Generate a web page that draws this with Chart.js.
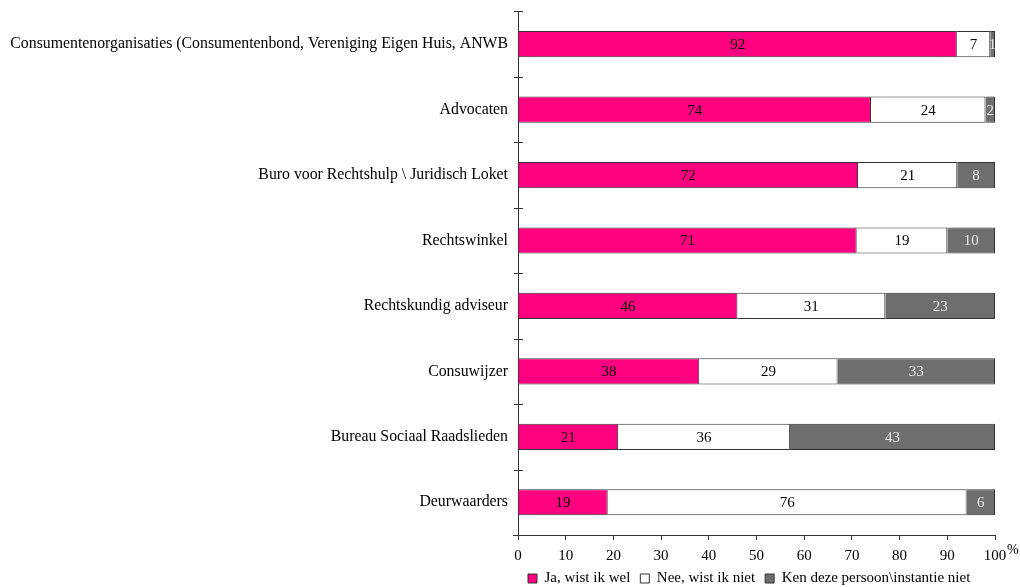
<!DOCTYPE html>
<html>
<head>
<meta charset="utf-8">
<script src="https://cdn.jsdelivr.net/npm/chart.js@4.4.1/dist/chart.umd.min.js"></script>
<style>
    html, body { margin: 0; padding: 0; background: #fff; }
    #wrap { width: 1020px; height: 587px; }
</style>
</head>
<body>
<div id="wrap"><canvas id="chart" width="1020" height="587"></canvas></div>
<script>
// Categories, top to bottom
const categories = [
    'Consumentenorganisaties (Consumentenbond, Vereniging Eigen Huis, ANWB',
    'Advocaten',
    'Buro voor Rechtshulp \\ Juridisch Loket',
    'Rechtswinkel',
    'Rechtskundig adviseur',
    'Consuwijzer',
    'Bureau Sociaal Raadslieden',
    'Deurwaarders'
];

// Percentages as printed on the bars
const jaWistIkWel = [92, 74, 72, 71, 46, 38, 21, 19];
const neeWistIkNiet = [7, 24, 21, 19, 31, 29, 36, 76];
const kenNiet = [1, 2, 8, 10, 23, 33, 43, 6];

const seriesNames = ['Ja, wist ik wel', 'Nee, wist ik niet', 'Ken deze persoon\\instantie niet'];
const xTicks = [0, 10, 20, 30, 40, 50, 60, 70, 80, 90, 100];

const FONT = '"Liberation Serif", "Times New Roman", serif';

// 100% stacked: scale each row so it fills the bar
function share(values) {
    return values.map((v, i) => v / (jaWistIkWel[i] + neeWistIkNiet[i] + kenNiet[i]) * 100);
}

const raw = [jaWistIkWel, neeWistIkNiet, kenNiet];

const valueLabels = {
    id: 'valueLabels',
    afterDatasetsDraw(chart) {
        const ctx = chart.ctx;
        ctx.save();
        ctx.font = '15px ' + FONT;
        ctx.textAlign = 'center';
        ctx.textBaseline = 'middle';
        chart.data.datasets.forEach((ds, d) => {
            const meta = chart.getDatasetMeta(d);
            meta.data.forEach((bar, i) => {
                ctx.fillStyle = d === 2 ? '#e6e6e6' : '#000';
                ctx.fillText(String(raw[d][i]), (bar.x + bar.base) / 2, bar.y + 1);
            });
        });
        ctx.restore();
    }
};

const axisMarks = {
    id: 'axisMarks',
    afterDraw(chart) {
        const ctx = chart.ctx;
        const y = chart.scales.y;
        const x = chart.scales.x;
        const left = chart.chartArea.left;
        const bottom = chart.chartArea.bottom;
        ctx.save();
        ctx.strokeStyle = '#333';
        ctx.lineWidth = 1;
        ctx.beginPath();
        // ticks between categories, crossing the axis
        const step = y.getPixelForValue(1) - y.getPixelForValue(0);
        for (let i = 0; i < categories.length; i++) {
            const py = Math.round(y.getPixelForValue(i) - step / 2) + 0.5;
            ctx.moveTo(left - 4, py);
            ctx.lineTo(left + 5, py);
        }
        // small stub of the x axis left of zero
        ctx.moveTo(left - 5, bottom + 0.5);
        ctx.lineTo(left, bottom + 0.5);
        ctx.stroke();
        // percent sign after the last tick
        ctx.fillStyle = '#000';
        ctx.font = '14px ' + FONT;
        ctx.textAlign = 'left';
        ctx.textBaseline = 'middle';
        ctx.fillText('%', x.getPixelForValue(100) + 12, bottom + 15);
        ctx.restore();
    }
};

const canvas = document.getElementById('chart');

const chart = new Chart(canvas, {
    type: 'bar',
    data: {
        labels: categories,
        datasets: [{
            label: seriesNames[0],
            data: share(jaWistIkWel),
            backgroundColor: '#ff0080',
            borderColor: '#333',
            borderWidth: 1
        }, {
            label: seriesNames[1],
            data: share(neeWistIkNiet),
            backgroundColor: '#ffffff',
            borderColor: '#333',
            borderWidth: 1
        }, {
            label: seriesNames[2],
            data: share(kenNiet),
            backgroundColor: '#6e6e6e',
            borderColor: '#333',
            borderWidth: 1
        }]
    },
    options: {
        indexAxis: 'y',
        responsive: false,
        animation: false,
        barPercentage: 0.4,
        categoryPercentage: 1,
        layout: {
            padding: { top: 4, right: 25, left: 0, bottom: -9 }
        },
        scales: {
            x: {
                stacked: true,
                min: 0,
                max: 100,
                afterBuildTicks(scale) {
                    scale.ticks = xTicks.map(v => ({ value: v }));
                },
                afterFit(scale) {
                    scale.height = 26;
                },
                grid: {
                    drawOnChartArea: false,
                    tickLength: 5,
                    color: '#333'
                },
                border: { color: '#333' },
                ticks: {
                    color: '#000',
                    font: { family: FONT, size: 15 },
                    padding: 7,
                    maxRotation: 0
                }
            },
            y: {
                stacked: true,
                afterFit(scale) {
                    scale.width = 518;
                },
                grid: { display: false },
                border: { display: true, color: '#333' },
                ticks: {
                    color: '#000',
                    font: { family: FONT, size: 15.8 },
                    padding: 2,
                    autoSkip: false
                }
            }
        },
        plugins: {
            legend: {
                position: 'bottom',
                align: 'start',
                fullSize: false,
                labels: {
                    color: '#000',
                    font: { family: FONT, size: 15 },
                    boxWidth: 9,
                    boxHeight: 9,
                    padding: 10
                }
            },
            tooltip: { enabled: false }
        }
    },
    plugins: [valueLabels, axisMarks]
});
</script>
</body>
</html>
